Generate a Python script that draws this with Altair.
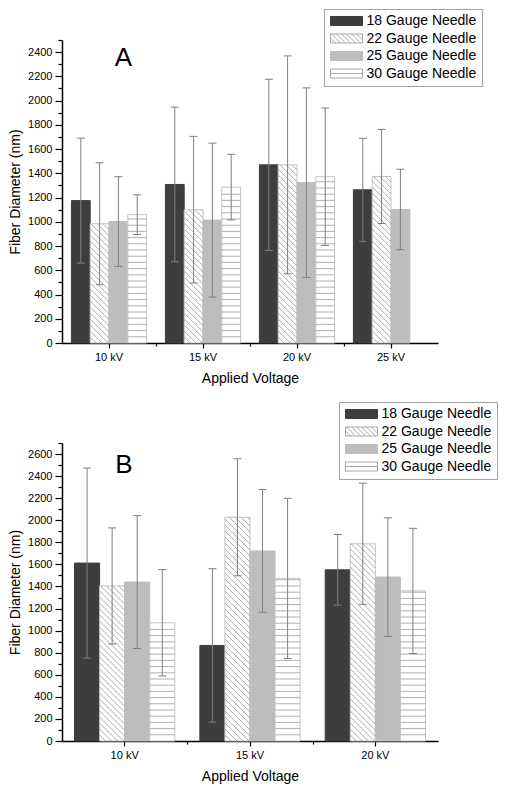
import altair as alt
import numpy as np
import pandas as pd

SERIES = ["18 Gauge Needle", "22 Gauge Needle", "25 Gauge Needle", "30 Gauge Needle"]

# ---- Panel A ----
A_VOLTAGES = ["10 kV", "15 kV", "20 kV", "25 kV"]
A_18_MEAN = [1175, 1308, 1470, 1264]
A_18_SD = [515, 638, 706, 425]
A_22_MEAN = [984, 1100, 1470, 1374]
A_22_SD = [503, 605, 899, 388]
A_25_MEAN = [1002, 1014, 1323, 1102]
A_25_SD = [370, 635, 782, 332]
A_30_MEAN = [1059, 1286, 1372]
A_30_SD = [164, 271, 567]

# ---- Panel B ----
B_VOLTAGES = ["10 kV", "15 kV", "20 kV"]
B_18_MEAN = [1612, 866, 1551]
B_18_SD = [861, 695, 320]
B_22_MEAN = [1405, 2027, 1787]
B_22_SD = [526, 530, 549]
B_25_MEAN = [1440, 1722, 1485]
B_25_SD = [602, 556, 537]
B_30_MEAN = [1071, 1473, 1360]
B_30_SD = [482, 726, 567]

PANEL_LABELS = ["A", "B"]

# ---- styles ----
FONT = "Liberation Sans"
W = 376
PAD_IN, PAD_OUT = 0.2, 0.1
BAR_FILL = dict(zip(SERIES, ["#3d3d3d", "#ffffff", "#bdbdbd", "#ffffff"]))
BAR_STROKE = dict(zip(SERIES, ["#3d3d3d", "#c4c4c4", "#bdbdbd", "#c4c4c4"]))
LEG_STROKE = ["#3d3d3d", "#a8a8a8", "#bdbdbd", "#a8a8a8"]
ERR_COLOR = "#7f7f7f"
DIAG_PX = 6.0
HORIZ_PX = 6.2

# legend swatch paths (unit = sqrt(symbolSize)/2 px)
HX, HY = 3.2, 0.9
RECT = f"M{-HX},{-HY}L{HX},{-HY}L{HX},{HY}L{-HX},{HY}Z"
diag_parts = []
for a in np.arange(-HX - 2 * HY, HX, 1.0):
    t0 = max(0.0, -HX - a)
    t1 = min(2 * HY, HX - a)
    if t1 > t0 + 1e-6:
        diag_parts.append(f"M{a + t0:.3f},{-HY + t0:.3f}L{a + t1:.3f},{-HY + t1:.3f}")
SHAPES = [RECT, RECT + "".join(diag_parts), RECT, RECT + f"M{-HX},0L{HX},0"]


def make_table(voltages, means, sds):
    rows = []
    for s, ml, sl in zip(SERIES, means, sds):
        for v, m, sd in zip(voltages, ml, sl):
            rows.append({"voltage": v, "series": s, "mean": m, "sd": sd})
    df = pd.DataFrame(rows)
    df["lo"] = df["mean"] - df["sd"]
    df["hi"] = df["mean"] + df["sd"]
    df["fillc"] = df["series"].map(BAR_FILL)
    df["strokec"] = df["series"].map(BAR_STROKE)
    return df


def make_hatch(df, voltages, ymax, H):
    n = len(voltages)
    step = W / (n - PAD_IN + 2 * PAD_OUT)
    sub = step * (1 - PAD_IN) / len(SERIES)
    ppy = H / ymax
    diag, horiz = [], []
    for _, r in df.iterrows():
        i = voltages.index(r["voltage"])
        j = SERIES.index(r["series"])
        left = step * PAD_OUT + i * step + j * sub
        h = r["mean"] * ppy
        if r["series"] == SERIES[1]:
            c = DIAG_PX
            while c < h + sub:
                u0, u1 = max(0.0, c - h), min(sub, c)
                diag.append({"x": (left + u0) / step, "x2": (left + u1) / step,
                             "y": (c - u0) / ppy, "y2": (c - u1) / ppy})
                c += DIAG_PX
        elif r["series"] == SERIES[3]:
            v = HORIZ_PX
            while v < h - 1:
                horiz.append({"x": left / step, "x2": (left + sub) / step,
                              "y": v / ppy, "y2": v / ppy})
                v += HORIZ_PX
    return pd.DataFrame(diag), pd.DataFrame(horiz)


def panel(voltages, means, sds, ymax, H, label, leg_x, leg_y, lab_x, lab_y):
    df = make_table(voltages, means, sds)
    diag_df, horiz_df = make_hatch(df, voltages, ymax, H)
    n = len(voltages)

    yscale = alt.Scale(domain=[0, ymax], nice=False, zero=True)
    yaxis = alt.Axis(
        values=list(range(0, ymax + 1, 100)), format="d",
        labelExpr="datum.value % 200 === 0 ? datum.label : ''",
        tickSize={"condition": {"test": "datum.value % 200 === 0", "value": 7}, "value": 4},
        grid=False, domainColor="black", domainWidth=1.5, tickColor="black", tickWidth=1.2,
        labelFontSize=11, labelFont=FONT, labelColor="black", labelPadding=3,
        labelOverlap=False, titleFontSize=14, titleFont=FONT, titleFontWeight="normal",
        titleColor="black", titlePadding=5,
    )
    ytitle = "Fiber Diameter (nm)"

    xaxis = alt.Axis(
        title="Applied Voltage", labelAngle=0, tickSize=5, domainColor="black", domainWidth=1.5,
        tickColor="black", tickWidth=1.2, labelFontSize=11, labelFont=FONT, labelColor="black",
        labelPadding=3, titleFontSize=14, titleFont=FONT, titleFontWeight="normal",
        titleColor="black", titlePadding=9, grid=False,
    )
    xband = alt.X("voltage:N", sort=voltages, title="Applied Voltage",
                  scale=alt.Scale(domain=voltages, paddingInner=PAD_IN, paddingOuter=PAD_OUT),
                  axis=xaxis)
    xband_noaxis = alt.X("voltage:N", sort=voltages,
                         scale=alt.Scale(domain=voltages, paddingInner=PAD_IN, paddingOuter=PAD_OUT),
                         axis=None)
    xoff = alt.XOffset("series:N", scale=alt.Scale(domain=SERIES, paddingInner=0, paddingOuter=0))

    leg = alt.Legend(title=None, orient="none", legendX=leg_x, legendY=leg_y)

    carrier = alt.Chart(df).transform_calculate(half="datum.mean / 2").mark_point(
        filled=True, size=1, opacity=1, strokeWidth=1
    ).encode(
        x=xband, xOffset=xoff,
        y=alt.Y("half:Q", scale=yscale, axis=yaxis, title=ytitle),
        shape=alt.Shape("series:N", scale=alt.Scale(domain=SERIES, range=SHAPES), legend=leg),
        fill=alt.Fill("series:N", scale=alt.Scale(domain=SERIES, range=list(BAR_FILL.values())), legend=leg),
        stroke=alt.Stroke("series:N", scale=alt.Scale(domain=SERIES, range=LEG_STROKE), legend=leg),
    )
    bars = alt.Chart(df).mark_bar(strokeWidth=1).encode(
        x=xband, xOffset=xoff,
        y=alt.Y("mean:Q", scale=yscale, axis=yaxis, title=ytitle),
        fill=alt.Fill("fillc:N", scale=None),
        stroke=alt.Stroke("strokec:N", scale=None),
    )
    bar_group = alt.layer(carrier, bars)

    xq = alt.X("x:Q", scale=alt.Scale(domain=[0, n], nice=False, zero=False),
               axis=alt.Axis(orient="bottom", values=list(range(1, n)), labels=False, domain=False,
                             tickSize=3, tickColor="black", tickWidth=1.2, grid=False, title=None))
    diag = alt.Chart(diag_df).mark_rule(color="#a0a0a0", strokeWidth=0.9).encode(
        x=xq, x2="x2:Q", y=alt.Y("y:Q", scale=yscale, axis=yaxis, title=ytitle), y2="y2:Q")
    horiz = alt.Chart(horiz_df).mark_rule(color="#a8a8a8", strokeWidth=0.9).encode(
        x=xq, x2="x2:Q", y=alt.Y("y:Q", scale=yscale, axis=yaxis, title=ytitle), y2="y2:Q")
    hatch = alt.layer(diag, horiz)

    errs = alt.Chart(df).mark_rule(color=ERR_COLOR, strokeWidth=1).encode(
        x=xband_noaxis, xOffset=xoff,
        y=alt.Y("lo:Q", scale=yscale, axis=yaxis, title=ytitle), y2="hi:Q")
    caps = alt.Chart(df).transform_fold(["lo", "hi"], as_=["end", "val"]).mark_tick(
        color=ERR_COLOR, thickness=1, size=8, opacity=1
    ).encode(
        x=xband_noaxis, xOffset=xoff,
        y=alt.Y("val:Q", scale=yscale, axis=yaxis, title=ytitle))
    err_group = alt.layer(errs, caps)

    text = alt.Chart(pd.DataFrame({"label": [label]})).mark_text(
        fontSize=26, font=FONT, color="black", align="center", baseline="middle"
    ).encode(x=alt.value(lab_x), y=alt.value(lab_y), text="label:N")

    return alt.layer(bar_group, hatch, err_group, text).resolve_scale(
        x="independent", xOffset="independent"
    ).properties(width=W, height=H)


panel_a = panel(A_VOLTAGES, [A_18_MEAN, A_22_MEAN, A_25_MEAN, A_30_MEAN],
                [A_18_SD, A_22_SD, A_25_SD, A_30_SD], 2500, 303, PANEL_LABELS[0],
                262, -31, 61.5, 18)
panel_b = panel(B_VOLTAGES, [B_18_MEAN, B_22_MEAN, B_25_MEAN, B_30_MEAN],
                [B_18_SD, B_22_SD, B_25_SD, B_30_SD], 2700, 298, PANEL_LABELS[1],
                277, -41, 62, 22)

chart = alt.vconcat(panel_a, panel_b, spacing=16).resolve_scale(
    fill="independent", stroke="independent", shape="independent"
).properties(
    padding={"left": 0, "top": 0, "right": 0, "bottom": 8}
).configure(font=FONT).configure_view(stroke=None).configure_legend(
    symbolSize=100, symbolStrokeWidth=1, symbolOffset=10.5, labelOffset=13,
    labelFontSize=14, labelFont=FONT, labelColor="black", padding=5, rowPadding=3.5,
    strokeColor="#a0a0a0", fillColor="white", labelLimit=300,
)

chart.save("out.html", embed_options={"renderer": "svg", "actions": False})
